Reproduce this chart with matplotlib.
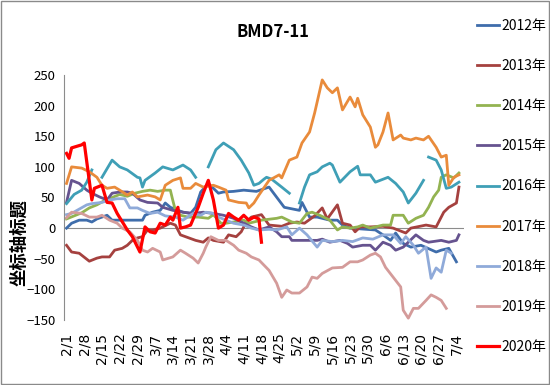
import matplotlib
matplotlib.use('Agg')
import matplotlib.pyplot as plt
import numpy as np
from matplotlib.patches import Rectangle

nan = np.nan

# ---- data (day offsets from 2/1, values) ----
tick_labels = ['2/1', '2/8', '2/15', '2/22', '2/29', '3/7', '3/14', '3/21', '3/28', '4/4',
               '4/11', '4/18', '4/25', '5/2', '5/9', '5/16', '5/23', '5/30', '6/6', '6/13',
               '6/20', '6/27', '7/4']
years = ['2012年', '2013年', '2014年', '2015年', '2016年', '2017年', '2018年', '2019年', '2020年']

d2012 = [0, 2, 5, 8, 10, 12, 16, 18, 24, 30, 31, 34, 37, 39, 41, 46, 49, 51, 53, 56, 60, 62, 66, 70, 75,
         80, 84, 86, 92, 93, 96, 99, 104, 107, 109, 112, 122, 125, 128, 130, 133, 136, 140, 146, 148, 151, 154]
v2012 = [0, 8, 13, 13, 10, 15, 21, 13, 13, 13, 21, 26, 29, 41, 34, 26, 24, 34, 59, 73, 57, 59, 60, 62, 60,
         67, 45, 34, 29, 42, 18, 18, 13, 13, 5, 0, -3, -11, -20, -8, -25, -31, -28, -39, -36, -33, -55]

d2013 = [0, 2, 5, 9, 12, 14, 17, 19, 22, 24, 26, 28, 30, 32, 34, 37, 41, 43, 45, 47, 51, 54, 56, 58, 62,
         64, 67, 69, 71, 73, 77, 80, 85, 88, 91, 94, 98, 101, 103, 107, 109, 112, 114, 116, 120, 125, 129,
         134, 136, 142, 146, 149, 151, 154, 155]
v2013 = [-28, -39, -41, -54, -49, -47, -47, -36, -33, -28, -20, -16, -14, -3, -3, 0, 8, 5, -11, -14, -20,
         -23, -16, -20, -23, -11, -14, -6, 10, 18, 22, 5, 3, 8, 10, 8, 20, 33, 15, 38, 8, 5, -6, 2, 2, 3, 0,
         -8, 0, 5, 2, 26, 34, 41, 67]

d2014 = [0, 3, 6, 9, 12, 15, 18, 21, 24, 27, 30, 33, 36, 39, 41, 42, 43, 45, 48, 52, 56, 58, 61, 63, 66,
         70, 72, 77, 83, 85, 89, 92, 95, 97, 100, 104, 107, 109, 112, 115, 117, 120, 122, 125, 128, 129,
         133, 135, 138, 141, 143, 145, 147, 148, 150, 153, 155]
v2014 = [15, 20, 25, 33, 38, 45, 50, 55, 52, 57, 60, 62, 60, 62, 62, 45, 29, 21, 18, 18, 16, 22, 8, 8, 10,
         13, 8, 13, 16, 18, 10, 8, 24, 26, 21, 13, -3, 2, 0, 2, 5, 0, 2, 5, 5, 21, 21, 8, 16, 21, 34, 51, 62,
         83, 87, 82, 90]

d2015 = [0, 2, 5, 8, 10, 13, 16, 18, 21, 24, 26, 29, 32, 36, 38, 42, 46, 50, 54, 58, 62, 66, 70, 73, 76,
         80, 83, 85, 88, 89, 92, 99, 101, 104, 108, 111, 113, 117, 120, 122, 125, 128, 130, 133, 135, 138,
         141, 143, 148, 151, 154, 155]
v2015 = [42, 78, 73, 62, 57, 51, 46, 57, 59, 59, 57, 46, 42, 41, 34, 29, 26, 24, 26, 24, 21, 16, 8, 2, -3,
         2, -6, -14, -14, -20, -20, -20, -18, -23, -20, -25, -31, -28, -28, -36, -23, -28, -36, -31, -23,
         -11, -20, -23, -20, -23, -20, -11]

d2016 = [0, 3, 6, 8, 10, 11, 14, 18, 21, 24, 28, 29, 30, 31, 35, 38, 42, 46, 49, 51, 53, 56, 59, 62, 66,
         69, 72, 74, 76, 78, 79, 81, 85, 88, 90, 92, 94, 96, 99, 101, 104, 105, 108, 112, 115, 116, 120,
         122, 127, 130, 133, 135, 138, 141, 142, 143, 146, 148, 150, 152, 155]
v2016 = [40, 55, 62, 75, 95, nan, 83, 111, 100, 95, 83, 82, 67, 78, 90, 100, 95, 103, 95, 83, nan, 100,
         128, 139, 128, 111, 90, 70, 73, 80, 83, 80, 67, 57, nan, 41, 67, 87, 92, 100, 106, 103, 75, 92,
         101, 87, 87, 75, 83, 73, 59, 41, 57, 78, nan, 116, 111, 95, 65, 67, 75]

d2017 = [0, 2, 6, 9, 12, 14, 16, 19, 21, 24, 26, 28, 32, 35, 37, 39, 42, 45, 46, 49, 51, 54, 58, 60, 63,
         64, 68, 71, 72, 74, 76, 80, 84, 85, 88, 91, 93, 96, 98, 101, 103, 105, 107, 109, 112, 114, 115,
         117, 120, 122, 123, 125, 127, 129, 132, 133, 136, 138, 141, 143, 146, 148, 150, 151, 153, 155]
v2017 = [73, 100, 98, 92, 83, 70, 65, 67, 62, 54, 59, 51, 54, 51, 46, 70, 78, 82, 65, 65, 73, 67, 70, 67,
         62, 46, 42, 41, 33, 41, 54, 78, 87, 82, 111, 116, 139, 157, 188, 242, 229, 221, 229, 193, 214, 198,
         212, 185, 165, 132, 136, 157, 188, 144, 152, 147, 144, 147, 144, 150, 132, 116, 119, 70, 83, 87]

d2018 = [0, 2, 5, 8, 10, 14, 17, 20, 23, 25, 28, 30, 33, 36, 39, 43, 46, 50, 53, 55, 58, 60, 63, 66, 70,
         73, 76, 80, 83, 87, 89, 92, 95, 99, 101, 105, 109, 113, 117, 121, 125, 129, 132, 134, 137, 139,
         142, 144, 146, 148, 150, 152]
v2018 = [22, 24, 31, 38, 40, 42, 46, 48, 48, 33, 33, 29, 24, 26, 20, 18, 13, 24, 21, 26, 24, 18, 13, 8, 5,
         0, -3, -2, -3, 2, -11, 0, -11, -31, -20, -22, -20, -22, -16, -18, -11, -11, -25, -14, -28, -41,
         -31, -82, -65, -72, -36, -41]

d2019 = [0, 2, 6, 9, 12, 14, 17, 20, 22, 25, 28, 30, 32, 34, 37, 38, 42, 45, 47, 50, 52, 54, 55, 57, 60,
         63, 66, 68, 71, 73, 76, 80, 83, 85, 87, 89, 92, 95, 97, 99, 101, 105, 109, 112, 115, 117, 120, 122,
         124, 126, 129, 132, 133, 135, 137, 139, 142, 144, 146, 148, 150]
v2019 = [17, 26, 24, 18, 18, 21, 13, 8, 0, -6, -20, -36, -39, -33, -39, -52, -47, -36, -41, -49, -57, -41,
         -31, -14, -20, -20, -28, -36, -41, -47, -52, -69, -90, -113, -101, -106, -106, -96, -80, -82, -74,
         -65, -64, -55, -55, -52, -44, -41, -47, -64, -80, -96, -134, -147, -131, -131, -118, -109, -113,
         -118, -131]

d2020 = [0, 1, 2, 6, 7, 10, 11, 14, 16, 18, 20, 24, 26, 29, 31, 33, 35, 37, 39, 41, 42, 44, 45, 47, 49,
         52, 54, 56, 58, 60, 62, 64, 66, 68, 70, 72, 74, 76, 77]
v2020 = [122, 114, 131, 136, 139, 46, 65, 70, 42, 41, 24, -3, -14, -39, 2, -6, -8, 8, 5, 18, 13, 34, 0, 2,
         5, 34, 57, 78, 46, 0, 5, 24, 18, 13, 21, 13, 18, 15, -23]

colors = ['#3F6DAB', '#A5413F', '#93B351', '#66538F', '#3F9FB6', '#E98B3B', '#8FAAD9', '#D49B9A', '#FF0000']

series = [(d2012, v2012), (d2013, v2013), (d2014, v2014), (d2015, v2015), (d2016, v2016),
          (d2017, v2017), (d2018, v2018), (d2019, v2019), (d2020, v2020)]

narrow = ['Liberation Sans Narrow', 'Noto Sans CJK SC', 'DejaVu Sans']

fig = plt.figure(figsize=(5.5, 3.85), dpi=100)
ax = fig.add_axes([64 / 550, 65 / 385, 400 / 550, 245 / 385])

ax.axhline(0, color='#8c8c8c', lw=0.8, zorder=1)
for (d, v), c, lab in zip(series, colors, years):
    lw = 2.3 if lab == '2020年' else 2.0
    ax.plot(d, v, color=c, lw=lw, label=lab, solid_joinstyle='round', zorder=2)

ax.set_xlim(-1, 157)
ax.set_ylim(-150, 250)
for s in ['top', 'right', 'bottom']:
    ax.spines[s].set_visible(False)
ax.spines['left'].set_color('#8c8c8c')
ax.spines['left'].set_linewidth(0.8)

ax.set_yticks(range(-150, 251, 50))
ax.tick_params(axis='y', length=0, pad=6, labelsize=9.5)
for t in ax.get_yticklabels():
    t.set_family(narrow)
ax.set_xticks(range(0, 155, 7))
ax.set_xticklabels(tick_labels, rotation=90, fontsize=10, family='DejaVu Sans')
ax.tick_params(axis='x', length=0, pad=9)

fig.text(19 / 550, 1 - 243 / 385, '坐标轴标题', rotation=90, fontsize=12.5, fontweight='bold',
         family=['Noto Sans CJK SC'], ha='center', va='center')
fig.text(273 / 550, 1 - 32 / 385, 'BMD7-11', fontsize=12, fontweight='bold',
         family=narrow, ha='center', va='center')

fig.legend(loc='upper left', bbox_to_anchor=(477 / 550, 1 - 19 / 385), frameon=False,
           prop={'family': narrow, 'size': 10}, labelspacing=1.88, handlelength=1.6,
           handletextpad=0.15, borderpad=0, borderaxespad=0)

fig.patches.append(Rectangle((0.001, 0.002), 0.997, 0.995, transform=fig.transFigure,
                             fill=False, edgecolor='#8a8a8a', lw=1.0))

fig.savefig('out.png', dpi=100)
